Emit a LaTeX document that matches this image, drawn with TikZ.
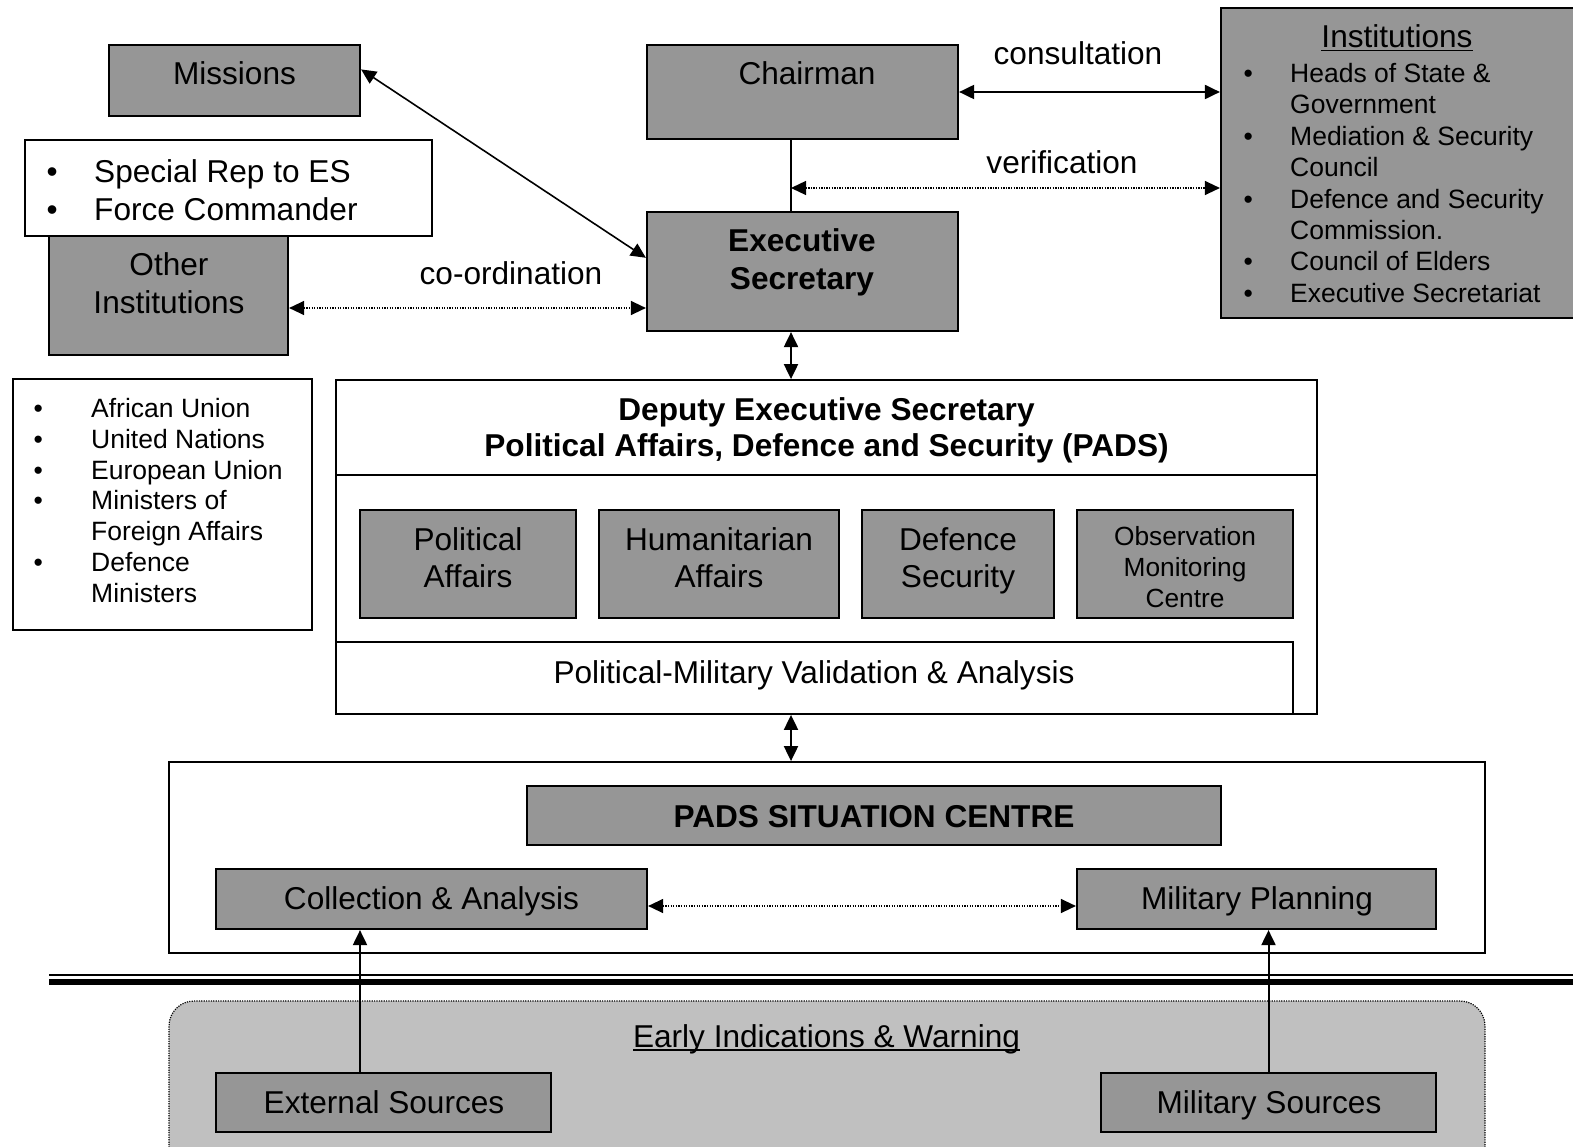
\documentclass[tikz,border=0pt]{standalone}
\usepackage{fontspec}
\setmainfont{Liberation Sans}
\usetikzlibrary{arrows.meta,fit}
\newcommand\fmain{\fontsize{31.6}{37}\selectfont}
\newcommand\fsmall{\fontsize{26.5}{31.4}\selectfont}
\newcommand\fleft{\fontsize{26.5}{30.8}\selectfont}
\newcommand\undl[1]{\setbox0\hbox{#1}\rlap{\rule[-3.5pt]{\wd0}{1.8pt}}\box0}
\definecolor{boxgray}{RGB}{150,150,150}
\definecolor{warngray}{RGB}{192,192,192}
\tikzset{
  gbox/.style={draw=black, line width=2.2pt, fill=boxgray, inner sep=0pt},
  wbox/.style={draw=black, line width=1.8pt, fill=white, inner sep=0pt},
  ewbox/.style={draw=black, line width=1.2pt, dash pattern=on 1.2pt off 1.2pt,
    fill=warngray, rounded corners=25pt, inner sep=0pt},
  txt/.style={anchor=base, inner sep=0pt, font=\fmain, align=center},
  biarrow/.style={{Triangle[length=15pt,width=14pt]}-{Triangle[length=15pt,width=14pt]}, line width=2pt},
  dotbi/.style={{Triangle[length=15pt,width=14pt]}-{Triangle[length=15pt,width=14pt]},
    line width=1.3pt, dash pattern=on 1.3pt off 1.3pt},
  uparrow/.style={-{Triangle[length=15pt,width=14pt]}, line width=2pt},
}
\begin{document}
\begin{tikzpicture}[x=1pt,y=-1pt]
\useasboundingbox (0,0) rectangle (1573,1147);
\clip (0,0) rectangle (1573,1147);
\fill[white] (0,0) rectangle (1573,1147);

% top row
\node[gbox, fit={(109,45)(360,116)}] (mis) {};
\node[txt] (misT) at (234.5,85) {Missions};
\node[gbox, fit={(647,45)(958,139)}] (chair) {};
\node[txt] (chairT) at (807,85) {Chairman};

% institutions panel
\node[gbox, fit={(1221,8)(1600,318)}] (inst) {};
\node[txt] (instT) at (1397,48) {\undl{Institutions}};
\node[anchor=base west, inner sep=0pt, font=\fsmall] (instL) at (1243.4,82.5)
  {\begin{tabular}[t]{@{}p{46.6pt}@{}l@{}}
   \textbullet & Heads of State \&\\
               & Government\\
   \textbullet & Mediation \& Security\\
               & Council\\
   \textbullet & Defence and Security\\
               & Commission.\\
   \textbullet & Council of Elders\\
   \textbullet & Executive Secretariat
   \end{tabular}};

% left side
\node[gbox, fit={(49,236)(288,355)}] (oth) {};
\node[txt] (othT) at (169,313) {Other\\Institutions};
\node[wbox, fit={(25,140)(432,236)}] (srep) {};
\node[anchor=base west, inner sep=0pt, font=\fontsize{31.6}{38}\selectfont] (srepL) at (46.5,183)
  {\begin{tabular}[t]{@{}p{47.5pt}@{}l@{}}
   \textbullet & Special Rep to ES\\
   \textbullet & Force Commander
   \end{tabular}};

\node[wbox, fit={(13,379)(312,630)}] (orgs) {};
\node[anchor=base west, inner sep=0pt, font=\fleft] (orgsL) at (33.4,417.5)
  {\begin{tabular}[t]{@{}p{57.6pt}@{}l@{}}
   \textbullet & African Union\\
   \textbullet & United Nations\\
   \textbullet & European Union\\
   \textbullet & Ministers of\\
               & Foreign Affairs\\
   \textbullet & Defence\\
               & Ministers
   \end{tabular}};

% executive secretary
\node[gbox, fit={(647,212)(958,331)}] (es) {};
\node[txt, font=\fontsize{31.6}{38}\selectfont\bfseries] (esT) at (802,290) {Executive\\Secretary};

% PADS block
\node[wbox, fit={(336,380)(1317,714)}] (pads) {};
\draw[line width=1.8pt] (pads.west |- 0,475) -- (pads.east |- 0,475);
\node[txt, font=\fontsize{31.6}{36}\selectfont\bfseries] (padsT) at (826.5,456)
  {Deputy Executive Secretary\\Political Affairs, Defence and Security (PADS)};
\node[gbox, fit={(360,510)(576,618)}] (pol) {};
\node[txt] (polT) at (468,587) {Political\\Affairs};
\node[gbox, fit={(599,510)(839,618)}] (hum) {};
\node[txt] (humT) at (719,587) {Humanitarian\\Affairs};
\node[gbox, fit={(862,510)(1054,618)}] (def) {};
\node[txt] (defT) at (958,587) {Defence\\Security};
\node[gbox, fit={(1077,510)(1293,618)}] (obs) {};
\node[txt, font=\fontsize{26.3}{31}\selectfont] (obsT) at (1185,607.5) {Observation\\Monitoring\\Centre};
\node[wbox, fit={(336,642)(1293,714)}] (pmva) {};
\node[txt] (pmvaT) at (814,683) {Political-Military Validation \& Analysis};

% situation centre
\node[wbox, fit={(169,762)(1485,953)}] (sit) {};
\node[gbox, fit={(527,786)(1221,845)}] (sc) {};
\node[txt, font=\fmain\bfseries] (scT) at (874,827) {PADS SITUATION CENTRE};
\node[gbox, fit={(216,869)(647,929)}] (coll) {};
\node[txt] (collT) at (431.5,909) {Collection \& Analysis};
\node[gbox, fit={(1077,869)(1436,929)}] (mplan) {};
\node[txt] (mplanT) at (1257,909) {Military Planning};

% separator
\draw[line width=1.6pt] (49,975) -- (1573,975);
\draw[line width=6pt] (49,982) -- (1573,982);

% early warning
\node[ewbox, fit={(169,1001)(1485,1185)}] (ew) {};
\node[txt] (ewT) at (826.5,1047) {\undl{Early Indications \& Warning}};
\node[gbox, fit={(216,1073)(551,1132)}] (ext) {};
\node[txt] (extT) at (384,1113) {External Sources};
\node[gbox, fit={(1101,1073)(1436,1132)}] (msrc) {};
\node[txt] (msrcT) at (1269,1113) {Military Sources};

% connector labels
\node[txt] (consT) at (1078,65) {consultation};
\node[txt] (verT) at (1062,174) {verification};
\node[txt] (coT) at (511,285) {co-ordination};

% connectors
\coordinate (vx) at (791,0);
\draw[line width=2pt] (chair.south -| vx) -- (es.north -| vx);
\coordinate (ver) at (791,188);
\draw[dotbi] (ver) -- (inst.west |- ver);
\draw[biarrow] (chair.east) -- (inst.west |- chair.east);
\draw[biarrow, line width=1.6pt] (mis.5.7) -- (es.175);
\coordinate (coy) at (0,308);
\draw[dotbi] (oth.east |- coy) -- (es.west |- coy);
\draw[biarrow] (es.south -| vx) -- (pads.north -| vx);
\draw[biarrow] (pads.south -| vx) -- (sit.north -| vx);
\coordinate (cmy) at (0,906);
\draw[dotbi] (coll.east |- cmy) -- (mplan.west |- cmy);
\coordinate (exx) at (360,0);
\draw[uparrow] (ext.north -| exx) -- (coll.south -| exx);
\draw[uparrow] (msrc.north) -- (mplan.south -| msrc.north);
\end{tikzpicture}
\end{document}
